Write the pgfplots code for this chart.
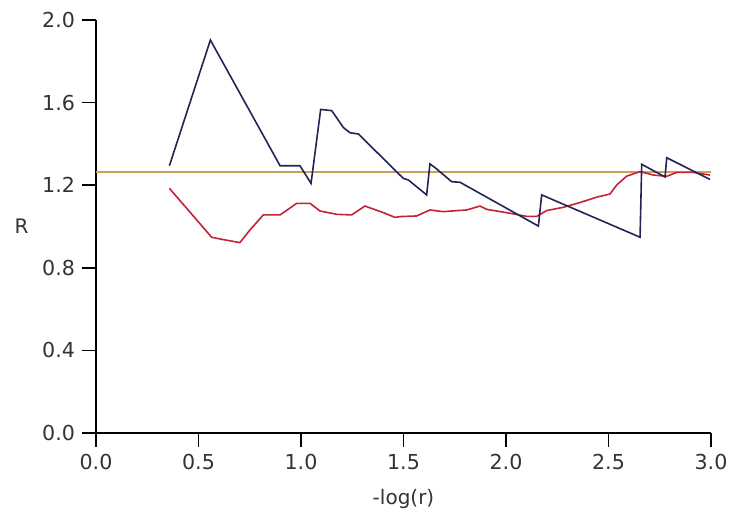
\documentclass[border=0pt]{standalone}
\usepackage{pgfplots}
\pgfplotsset{compat=1.18}
\usepackage{fontspec}
\setmainfont{DejaVu Sans}
\definecolor{navyline}{RGB}{35,35,85}
\definecolor{redline}{RGB}{195,35,55}
\definecolor{refline}{RGB}{205,160,90}
\begin{document}
\begin{tikzpicture}
\path[use as bounding box] (-48pt,-45pt) rectangle (319pt,216.5pt);
\begin{axis}[
  scale only axis,
  width=307.5pt, height=206.5pt,
  xmin=0, xmax=3, ymin=0, ymax=2,
  axis lines=left,
  axis line style={-, line width=0.8pt},
  tick style={line width=0.8pt, black},
  tick align=outside,
  major tick length=7pt,
  xtick={0,0.5,...,3},
  ytick={0,0.4,...,2.0},
  xticklabel style={/pgf/number format/.cd, fixed, fixed zerofill, precision=1},
  yticklabel style={/pgf/number format/.cd, fixed, fixed zerofill, precision=1},
  /pgf/number format/assume math mode=true,
  ticklabel style={font=\fontsize{10.3}{12}\selectfont, text=black!80},
  label style={font=\fontsize{10}{12}\selectfont, text=black!80},
  xlabel={-log(r)},
  ylabel={R},
  xlabel style={yshift=-3pt},
  ylabel style={rotate=-90, xshift=0pt},
  clip=false,
]
% reference level
\addplot[refline, line width=0.9pt] coordinates {(0,1.265) (3,1.265)};
% red series
\addplot[redline, line width=0.8pt] coordinates {
  (0.358,1.185) (0.564,0.948) (0.613,0.938) (0.702,0.922) (0.751,0.983)
  (0.816,1.056) (0.898,1.056) (0.979,1.112) (1.044,1.112) (1.093,1.075)
  (1.174,1.059) (1.247,1.056) (1.312,1.099) (1.402,1.067) (1.459,1.044)
  (1.483,1.048) (1.564,1.051) (1.629,1.080) (1.694,1.072) (1.808,1.080)
  (1.873,1.099) (1.906,1.083) (2.020,1.064) (2.101,1.049) (2.150,1.049)
  (2.198,1.077) (2.280,1.093) (2.361,1.116) (2.442,1.142) (2.507,1.157)
  (2.540,1.201) (2.589,1.244) (2.654,1.266) (2.719,1.249) (2.784,1.243)
  (2.833,1.262) (2.914,1.262) (2.995,1.249)
};
% navy series
\addplot[navyline, line width=0.8pt] coordinates {
  (0.358,1.294) (0.558,1.903) (0.898,1.294) (0.995,1.294) (1.049,1.209)
  (1.096,1.567) (1.150,1.561) (1.207,1.479) (1.239,1.454) (1.280,1.448)
  (1.499,1.233) (1.524,1.225) (1.613,1.153) (1.629,1.303) (1.654,1.285)
  (1.735,1.217) (1.776,1.214) (2.158,1.002) (2.174,1.153) (2.654,0.948)
  (2.662,1.301) (2.776,1.240) (2.784,1.333) (2.995,1.228)
};
\end{axis}
\end{tikzpicture}
\end{document}
